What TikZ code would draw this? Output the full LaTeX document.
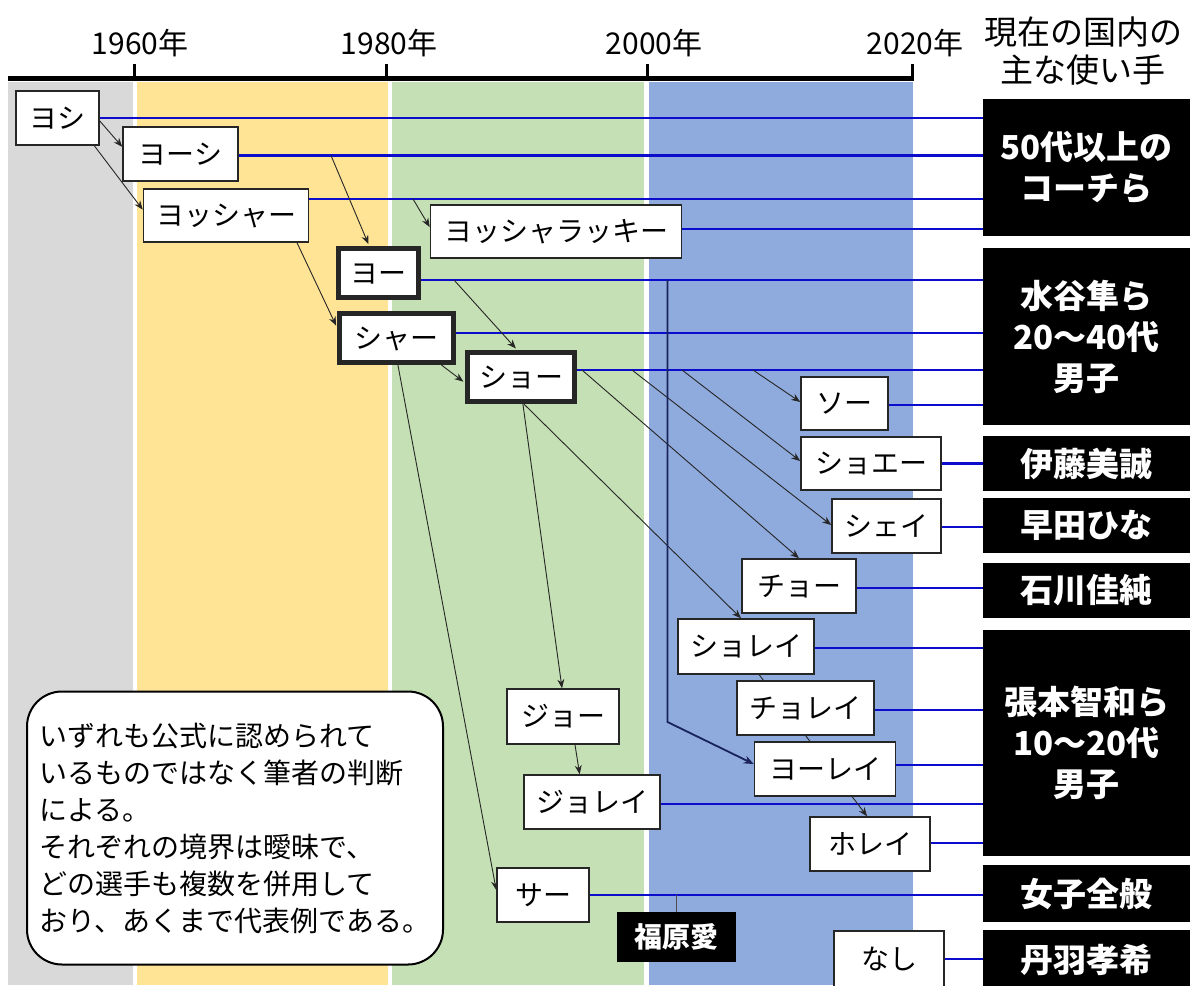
\documentclass[tikz,border=0pt]{standalone}
\usepackage{fontspec}
\setmainfont{Noto Sans CJK JP}
\usetikzlibrary{arrows.meta}
\definecolor{bgray}{RGB}{217,217,217}
\definecolor{byellow}{RGB}{255,228,150}
\definecolor{bgreen}{RGB}{197,224,180}
\definecolor{bblue}{RGB}{143,170,220}
\definecolor{lblue}{RGB}{12,12,205}
\definecolor{navyl}{RGB}{25,35,90}
\pgfdeclarelayer{bands}
\pgfdeclarelayer{lines}
\pgfsetlayers{bands,lines,main}
\tikzset{
  lbl/.style={draw=black!85, line width=1.5pt, fill=white, inner sep=0pt,
    font=\fontsize{28}{30}\selectfont, text height=24pt, text depth=4pt},
  heavybox/.style={lbl, line width=5pt},
  blk/.style={fill=black, text=white, inner sep=0pt, align=center,
    font=\fontsize{33}{41}\selectfont\bfseries},
  bluel/.style={draw=lblue, line width=2.6pt},
  arr/.style={draw=black!85, line width=0.9pt, -{Stealth[length=9pt,width=7pt]}},
  yearlbl/.style={font=\fontsize{30}{32}\selectfont, inner sep=0pt},
}
\newcommand\bline[3]{%
  \path ([yshift=#3pt]#1.east) coordinate (bltmp);
  \draw[bluel] (bltmp) -- (bltmp -| #2.west);}
\begin{document}
\begin{tikzpicture}[x=1pt,y=-1pt]
\useasboundingbox (0,0) rectangle (1199,985);
\begin{pgfonlayer}{bands}
\fill[white] (0,0) rectangle (1199,985);
\fill[bgray] (8,82) rectangle (132.5,985);
\fill[byellow] (136.5,82) rectangle (388,985);
\fill[bgreen] (392,82) rectangle (644,985);
\fill[bblue] (648.5,82) rectangle (912.5,985);
\end{pgfonlayer}
% axis
\draw[line width=5pt] (8,78) -- (914,78);
\foreach \x in {134.7,386,647.7,912} \draw[line width=3pt] (\x,78) -- (\x,64);
\node[yearlbl] (y1960) at (140,43) {1960年};
\node[yearlbl] (y1980) at (389,43) {1980年};
\node[yearlbl] (y2000) at (654,43) {2000年};
\node[yearlbl] (y2020) at (915,43) {2020年};
\node[font=\fontsize{33}{38}\selectfont, align=center, inner sep=0pt] (head) at (1083,51) {現在の国内の\\主な使い手};

% black boxes
\node[blk, minimum width=207pt, minimum height=137pt] (B1) at (1086.5,167.5) {50代以上の\\コーチら};
\node[blk, minimum width=207pt, minimum height=177pt] (B2) at (1086.5,336.5) {水谷隼ら\\20〜40代\\男子};
\node[blk, minimum width=207pt, minimum height=55pt] (B3) at (1086.5,463.5) {伊藤美誠};
\node[blk, minimum width=207pt, minimum height=55pt] (B4) at (1086.5,525.5) {早田ひな};
\node[blk, minimum width=207pt, minimum height=55pt] (B5) at (1086.5,590.5) {石川佳純};
\node[blk, minimum width=207pt, minimum height=226pt] (B6) at (1086.5,743) {張本智和ら\\10〜20代\\男子};
\node[blk, minimum width=207pt, minimum height=57pt] (B7) at (1086.5,893.5) {女子全般};
\node[blk, minimum width=207pt, minimum height=60pt] (B8) at (1086.5,960) {丹羽孝希};
\node[blk, minimum width=119pt, minimum height=50pt, font=\fontsize{28}{30}\selectfont\bfseries] (fukuhara) at (676,937) {福原愛};

% label boxes
\node[lbl, minimum width=83pt, minimum height=54pt] (yoshi) at (57.5,118) {ヨシ};
\node[lbl, minimum width=115pt, minimum height=54pt] (yooshi) at (180.5,154) {ヨーシ};
\node[lbl, minimum width=165pt, minimum height=53pt] (yossha) at (226,215.5) {ヨッシャー};
\node[lbl, minimum width=251pt, minimum height=53pt] (lucky) at (556,231.5) {ヨッシャラッキー};
\node[heavybox, minimum width=80pt, minimum height=49pt] (yoo) at (378,273) {ヨー};
\node[heavybox, minimum width=114pt, minimum height=49pt] (shaa) at (396.5,338) {シャー};
\node[heavybox, minimum width=107pt, minimum height=49pt] (shoo) at (521,377) {ショー};
\node[lbl, minimum width=87pt, minimum height=53pt] (soo) at (844.5,403.5) {ソー};
\node[lbl, minimum width=140pt, minimum height=53pt] (shoee) at (871,463.5) {ショエー};
\node[lbl, minimum width=109pt, minimum height=54pt] (shei) at (886.5,526) {シェイ};
\node[lbl, minimum width=114pt, minimum height=54pt] (choo) at (799,586) {チョー};
\node[lbl, minimum width=136pt, minimum height=55pt] (shorei) at (746,646.5) {ショレイ};
\node[lbl, minimum width=137pt, minimum height=54pt] (chorei) at (805.5,708) {チョレイ};
\node[lbl, minimum width=141pt, minimum height=54pt] (yoorei) at (825,769) {ヨーレイ};
\node[lbl, minimum width=120pt, minimum height=54pt] (horei) at (870,844) {ホレイ};
\node[lbl, minimum width=112pt, minimum height=55pt] (joo) at (563,716.5) {ジョー};
\node[lbl, minimum width=136pt, minimum height=54pt] (jorei) at (592,802) {ジョレイ};
\node[lbl, minimum width=92pt, minimum height=54pt] (saa) at (543,895) {サー};
\node[lbl, minimum width=110pt, minimum height=56pt] (nashi) at (889,959) {なし};

% note
\node[draw=black, line width=2pt, fill=white, rounded corners=35pt,
  minimum width=416pt, minimum height=273pt, align=left, inner sep=0pt,
  font=\fontsize{28}{37}\selectfont] (note) at (235,828)
  {いずれも公式に認められて\\いるものではなく筆者の判断\\による。\\それぞれの境界は曖昧で、\\どの選手も複数を併用して\\おり、あくまで代表例である。};

\begin{pgfonlayer}{lines}
% blue lines
\bline{yoshi}{B1}{0}
\bline{yooshi}{B1}{-1.5}
\bline{yossha}{B1}{16.5}
\bline{lucky}{B1}{2.5}
\bline{yoo}{B2}{-7}
\bline{shaa}{B2}{5}
\bline{shoo}{B2}{7}
\bline{soo}{B2}{-1.5}
\bline{shoee}{B3}{0}
\bline{shei}{B4}{-1}
\bline{choo}{B5}{-2}
\bline{shorei}{B6}{-1.5}
\bline{chorei}{B6}{-2}
\bline{yoorei}{B6}{4}
\bline{jorei}{B6}{-2}
\bline{horei}{B6}{1}
\bline{saa}{B7}{0}
\bline{nashi}{B8}{0}
% start points on blue lines
\coordinate (p3) at (331,155.5);
\coordinate (p4) at (413,199);
\coordinate (p6) at (454,280);
\coordinate (p11) at (582,370);
\coordinate (p12) at (632,370);
\coordinate (p13) at (682,370);
\coordinate (p14) at (753,370);
\coordinate (c17) at (667.5,280);
\coordinate (c17b) at (667.5,722);
\coordinate (c18) at (676,895);
% arrows
\draw[arr] (yoshi.356) -- (yooshi.173);
\draw[arr] (yoshi.323.5) -- (yossha.176.2);
\draw[arr, shorten >=2pt] (p3) -- (yoo.108.4);
\draw[arr] (p4) -- (lucky.178);
\draw[arr, shorten >=2pt] (yossha.339.9) -- (shaa.170.6);
\draw[arr, shorten >=2pt] (p6) -- (shoo.98.4);
\draw[arr, shorten >=2pt] (shaa.329.9) -- (shoo.186);
\draw[arr] (shaa.273.2) -- (saa.174);
\draw[arr] (shoo.274.2) -- (joo.92);
\draw[arr] (shoo.276) -- (shorei.100);
\draw[arr] (p11) -- (choo.90);
\draw[arr] (p12) -- (shei.179);
\draw[arr] (p13) -- (shoee.178.8);
\draw[arr] (p14) -- (soo.178);
\draw[arr] (joo.293.6) -- (jorei.114);
\draw[arr] (shorei.295.3) -- (horei.96);
\draw[draw=navyl, line width=1.8pt, -{Stealth[length=10pt,width=8pt]}] (c17) -- (c17b) -- (yoorei.176.7);
\draw[draw=black!70, line width=1pt] (c18) -- (c18 |- fukuhara.north);
\end{pgfonlayer}
\end{tikzpicture}
\end{document}
